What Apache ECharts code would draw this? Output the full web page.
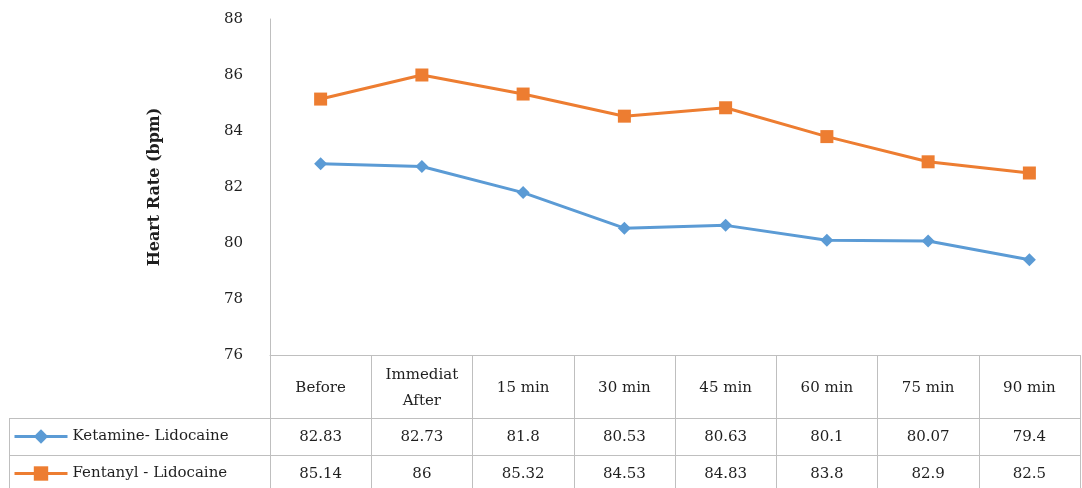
<!DOCTYPE html>
<html>
<head>
<meta charset="utf-8">
<script src="https://cdn.jsdelivr.net/npm/echarts@6/dist/echarts.min.js"></script>
<style>
  html, body { margin: 0; padding: 0; background: #fff; }
  #chart { width: 1082px; height: 488px; }
</style>
</head>
<body>
<div id="chart"></div>
<script>
// Heart rate over time for the two anaesthetic groups
const categories = ['Before', 'Immediat\nAfter', '15 min', '30 min', '45 min', '60 min', '75 min', '90 min'];
const ketamine = [82.83, 82.73, 81.8, 80.53, 80.63, 80.1, 80.07, 79.4];
const fentanyl = [85.14, 86, 85.32, 84.53, 84.83, 83.8, 82.9, 82.5];
const seriesNames = ['Ketamine- Lidocaine', 'Fentanyl - Lidocaine'];
const yTicks = { min: 76, max: 88, interval: 2 };

const FONT = "'DejaVu Serif', serif";
const FS = 15;
const TEXT = '#1f1f1f';
const RULE = '#bfbfbf';
const BLUE = '#5B9BD5';
const ORANGE = '#ED7D31';

const chart = echarts.init(document.getElementById('chart'), null, { renderer: 'canvas' });

// Each table row is a category axis sharing the grid; its labels carry the values.
function tableAxis(offset, tickLen, labelMargin, formatter) {
  return {
    type: 'category',
    data: categories,
    position: 'bottom',
    offset: offset,
    boundaryGap: true,
    axisLine: { show: true, lineStyle: { color: RULE, width: 1 } },
    axisTick: { show: true, length: tickLen, interval: 0, alignWithLabel: false, lineStyle: { color: RULE, width: 1 } },
    axisLabel: {
      interval: 0, margin: labelMargin, verticalAlign: 'middle',
      fontFamily: FONT, fontSize: FS, color: TEXT, lineHeight: 26,
      formatter: formatter
    },
    splitLine: { show: false }
  };
}

// One legend per table row, placed in the row's left-hand cell
function rowLegend(name, top, color) {
  return {
    orient: 'vertical',
    left: 13,
    top: top,
    padding: 0,
    itemWidth: 53,
    itemHeight: 18,
    itemGap: 0,
    data: [name],
    lineStyle: { width: 3, color: color },
    textStyle: { fontFamily: FONT, fontSize: FS, color: TEXT }
  };
}

const option = {
  backgroundColor: '#fff',
  animation: false,
  grid: { left: 270, right: 2, top: 19, bottom: 133, containLabel: false, outerBoundsMode: 'none' },
  legend: [
    rowLegend(seriesNames[0], 429, BLUE),
    rowLegend(seriesNames[1], 466, ORANGE)
  ],
  xAxis: [
    tableAxis(0, 63, 33, null),
    tableAxis(63, 37, 19, (v, i) => String(ketamine[i])),
    tableAxis(100, 33, 19, (v, i) => String(fentanyl[i]))
  ],
  yAxis: {
    type: 'value',
    min: yTicks.min,
    max: yTicks.max,
    interval: yTicks.interval,
    name: 'Heart Rate (bpm)',
    nameLocation: 'middle',
    nameGap: 107,
    nameTextStyle: { fontFamily: FONT, fontSize: 16, fontWeight: 'bold', color: TEXT },
    axisLine: { show: true, lineStyle: { color: RULE, width: 1 } },
    axisTick: { show: false },
    axisLabel: { margin: 27, fontFamily: FONT, fontSize: FS, color: TEXT },
    splitLine: { show: false }
  },
  // Left column of the data table (row rules and outer edge)
  graphic: [
    { type: 'line', shape: { x1: 9, y1: 418.5, x2: 270, y2: 418.5 }, style: { stroke: RULE, lineWidth: 1 }, silent: true },
    { type: 'line', shape: { x1: 9, y1: 455.5, x2: 270, y2: 455.5 }, style: { stroke: RULE, lineWidth: 1 }, silent: true },
    { type: 'line', shape: { x1: 9.5, y1: 418, x2: 9.5, y2: 488 }, style: { stroke: RULE, lineWidth: 1 }, silent: true }
  ],
  series: [
    {
      name: seriesNames[0],
      type: 'line',
      data: ketamine,
      symbol: 'diamond',
      symbolSize: 13,
      color: BLUE,
      lineStyle: { width: 3, color: BLUE },
      itemStyle: { color: BLUE }
    },
    {
      name: seriesNames[1],
      type: 'line',
      data: fentanyl,
      symbol: 'rect',
      symbolSize: 13,
      color: ORANGE,
      lineStyle: { width: 3, color: ORANGE },
      itemStyle: { color: ORANGE }
    }
  ]
};

chart.setOption(option);
</script>
</body>
</html>
